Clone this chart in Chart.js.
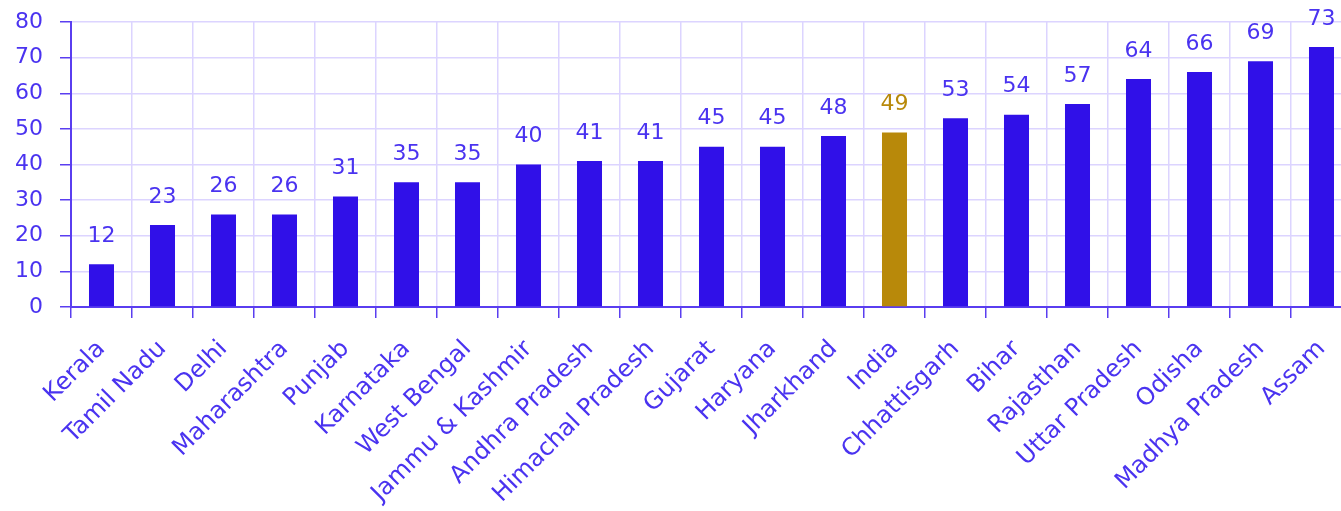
<!DOCTYPE html>
<html>
<head>
<meta charset="utf-8">
<script src="https://cdn.jsdelivr.net/npm/chart.js@4.4.1/dist/chart.umd.min.js"></script>
<style>
  html, body { margin: 0; padding: 0; background: #fff; overflow: hidden; }
  #wrap { width: 1352px; height: 511px; }
</style>
</head>
<body>
<div id="wrap"><canvas id="myChart"></canvas></div>
<script>
// values
var states = ['Kerala', 'Tamil Nadu', 'Delhi', 'Maharashtra', 'Punjab', 'Karnataka',
  'West Bengal', 'Jammu & Kashmir', 'Andhra Pradesh', 'Himachal Pradesh', 'Gujarat',
  'Haryana', 'Jharkhand', 'India', 'Chhattisgarh', 'Bihar', 'Rajasthan', 'Uttar Pradesh',
  'Odisha', 'Madhya Pradesh', 'Assam'];
var values = [12, 23, 26, 26, 31, 35, 35, 40, 41, 41, 45, 45, 48, 49, 53, 54, 57, 64, 66, 69, 73];
var yTicks = [0, 10, 20, 30, 40, 50, 60, 70, 80];

var blue = '#3010e8';
var gold = '#b8890a';
var textBlue = '#4a33f0';

var barColors = states.map(function(s) { return s === 'India' ? gold : blue; });

// draws the number above each bar
var valueLabels = {
  id: 'valueLabels',
  afterDatasetsDraw: function(chart) {
    var ctx = chart.ctx;
    var meta = chart.getDatasetMeta(0);
    ctx.save();
    ctx.font = '22px "DejaVu Sans"';
    ctx.textAlign = 'center';
    ctx.textBaseline = 'bottom';
    meta.data.forEach(function(bar, i) {
      ctx.fillStyle = states[i] === 'India' ? gold : textBlue;
      ctx.fillText(values[i], bar.x, bar.y - 17);
    });
    ctx.restore();
  }
};

var ctx = document.getElementById('myChart').getContext('2d');
var myChart = new Chart(ctx, {
  type: 'bar',
  data: {
    labels: states,
    datasets: [{
      data: values,
      backgroundColor: barColors,
      categoryPercentage: 1,
      barPercentage: 0.41
    }]
  },
  plugins: [valueLabels],
  options: {
    responsive: true,
    maintainAspectRatio: false,
    animation: false,
    layout: { padding: { top: 22, right: 0, left: 0, bottom: 0 } },
    plugins: {
      legend: { display: false },
      tooltip: { enabled: false }
    },
    scales: {
      x: {
        grid: { color: '#dcd4ff', lineWidth: 1.5, tickColor: '#5a3ef0', tickLength: 11 },
        border: { color: '#5a3ef0', width: 2 },
        ticks: {
          color: textBlue,
          font: { family: 'DejaVu Sans', size: 24 },
          maxRotation: 45,
          minRotation: 45,
          autoSkip: false,
          padding: 17
        },
        afterFit: function(scale) {
          scale.height = 204;
          scale.paddingLeft = 0;
          scale.paddingRight = 0;
        }
      },
      y: {
        min: 0,
        max: 80,
        afterBuildTicks: function(scale) {
          scale.ticks = yTicks.map(function(v) { return { value: v }; });
        },
        grid: { color: '#dcd4ff', lineWidth: 1.5, tickColor: '#5a3ef0', tickLength: 11 },
        border: { color: '#5a3ef0', width: 2 },
        ticks: {
          color: textBlue,
          font: { family: 'DejaVu Sans', size: 22 },
          padding: 17
        },
        afterFit: function(scale) {
          scale.width = 71;
          scale.paddingTop = 0;
          scale.paddingBottom = 0;
        }
      }
    }
  }
});
</script>
</body>
</html>
